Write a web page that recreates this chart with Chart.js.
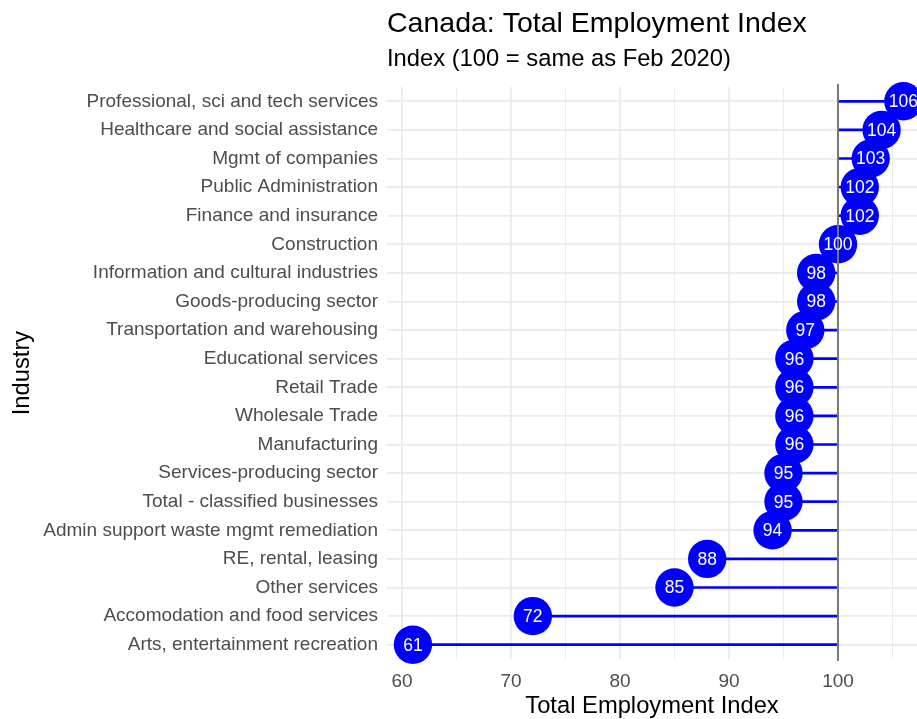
<!DOCTYPE html>
<html>
<head>
    <meta charset="utf-8">
    <title>Canada: Total Employment Index</title>
    <style>
        html, body { margin: 0; padding: 0; background: #fff; }
        #wrap { width: 917px; height: 719px; }
    </style>
</head>
<body>
    <div id="wrap">
        <canvas id="myChart"></canvas>
    </div>
    <script src="https://cdn.jsdelivr.net/npm/chart.js"></script>
    <script>
        const industries = [
            'Professional, sci and tech services',
            'Healthcare and social assistance',
            'Mgmt of companies',
            'Public Administration',
            'Finance and insurance',
            'Construction',
            'Information and cultural industries',
            'Goods-producing sector',
            'Transportation and warehousing',
            'Educational services',
            'Retail Trade',
            'Wholesale Trade',
            'Manufacturing',
            'Services-producing sector',
            'Total - classified businesses',
            'Admin support waste mgmt remediation',
            'RE, rental, leasing',
            'Other services',
            'Accomodation and food services',
            'Arts, entertainment recreation'
        ];
        const employmentIndex = [106, 104, 103, 102, 102, 100, 98, 98, 97, 96, 96, 96, 96, 95, 95, 94, 88, 85, 72, 61];
        const xTickValues = [60, 65, 70, 75, 80, 85, 90, 95, 100, 105];
        const baseline = 100;

        const FONT = "'Liberation Sans', Arial, sans-serif";
        const BLUE = '#0000ff';

        // stems go from the value to the 100 line
        const stems = employmentIndex.map(v => [v, baseline]);

        // vertical reference line at 100, drawn over the dots
        const refLine = {
            id: 'refLine',
            afterDatasetsDraw(chart) {
                const ctx = chart.ctx;
                const x = chart.scales.x.getPixelForValue(baseline);
                const area = chart.chartArea;
                ctx.save();
                ctx.strokeStyle = '#777777';
                ctx.lineWidth = 2;
                ctx.beginPath();
                ctx.moveTo(x, area.top - 3);
                ctx.lineTo(x, area.bottom + 2);
                ctx.stroke();
                ctx.restore();
            }
        };

        // value labels inside the dots
        const dotLabels = {
            id: 'dotLabels',
            afterDatasetsDraw(chart) {
                const ctx = chart.ctx;
                const meta = chart.getDatasetMeta(1);
                ctx.save();
                ctx.fillStyle = '#ffffff';
                ctx.font = '17.5px ' + FONT;
                ctx.textAlign = 'center';
                ctx.textBaseline = 'middle';
                meta.data.forEach((pt, i) => {
                    ctx.fillText(String(Math.round(employmentIndex[i])), pt.x, pt.y + 1);
                });
                ctx.restore();
            }
        };

        const config = {
            type: 'bar',
            data: {
                labels: industries,
                datasets: [{
                    label: 'stem',
                    data: stems,
                    indexAxis: 'y',
                    backgroundColor: BLUE,
                    borderWidth: 0,
                    barThickness: 2,
                    order: 2
                },
                {
                    type: 'line',
                    label: 'Index',
                    data: employmentIndex,
                    indexAxis: 'y',
                    showLine: false,
                    pointRadius: 19.2,
                    pointHoverRadius: 19.2,
                    pointBackgroundColor: BLUE,
                    pointBorderWidth: 0,
                    clip: false,
                    order: 1
                }]
            },
            options: {
                indexAxis: 'y',
                responsive: true,
                maintainAspectRatio: false,
                animation: false,
                layout: { padding: 0, autoPadding: false },
                plugins: {
                    legend: { display: false },
                    tooltip: { enabled: false },
                    title: {
                        display: true,
                        text: 'Canada: Total Employment Index',
                        align: 'start',
                        fullSize: false,
                        color: '#000',
                        font: { family: FONT, size: 28.5, weight: 'normal' },
                        padding: { top: 7, bottom: 0 }
                    },
                    subtitle: {
                        display: true,
                        text: 'Index (100 = same as Feb 2020)',
                        align: 'start',
                        fullSize: false,
                        color: '#000',
                        font: { family: FONT, size: 23.75, weight: 'normal' },
                        padding: { top: 4, bottom: 13.3 }
                    }
                },
                scales: {
                    x: {
                        type: 'linear',
                        min: 58.62,
                        max: 107.25,
                        border: { display: false },
                        afterBuildTicks: s => { s.ticks = xTickValues.map(v => ({ value: v })); },
                        afterFit: s => { s.height = 60; },
                        grid: {
                            color: '#ebebeb',
                            lineWidth: c => (c.tick && c.tick.value % 10 === 0) ? 1.8 : 1,
                            drawTicks: false
                        },
                        ticks: {
                            autoSkip: false,
                            maxRotation: 0,
                            padding: 11,
                            color: '#4d4d4d',
                            font: { family: FONT, size: 19 },
                            callback: v => (v % 10 === 0 ? String(v) : '')
                        },
                        title: {
                            display: true,
                            text: 'Total Employment Index',
                            color: '#000',
                            font: { family: FONT, size: 23.75 },
                            padding: { top: 0, bottom: -2 }
                        }
                    },
                    y: {
                        type: 'category',
                        offset: true,
                        border: { display: false },
                        afterFit: s => { s.width = 387; },
                        grid: {
                            offset: false,
                            color: '#ebebeb',
                            lineWidth: 1.8,
                            drawTicks: false
                        },
                        ticks: {
                            autoSkip: false,
                            padding: 9,
                            color: '#4d4d4d',
                            font: { family: FONT, size: 19 }
                        },
                        title: {
                            display: true,
                            text: 'Industry',
                            color: '#000',
                            font: { family: FONT, size: 23.75 },
                            padding: { top: 8, bottom: 0 }
                        }
                    }
                }
            },
            plugins: [refLine, dotLabels]
        };

        const myChart = new Chart(document.getElementById('myChart'), config);
    </script>
</body>
</html>
